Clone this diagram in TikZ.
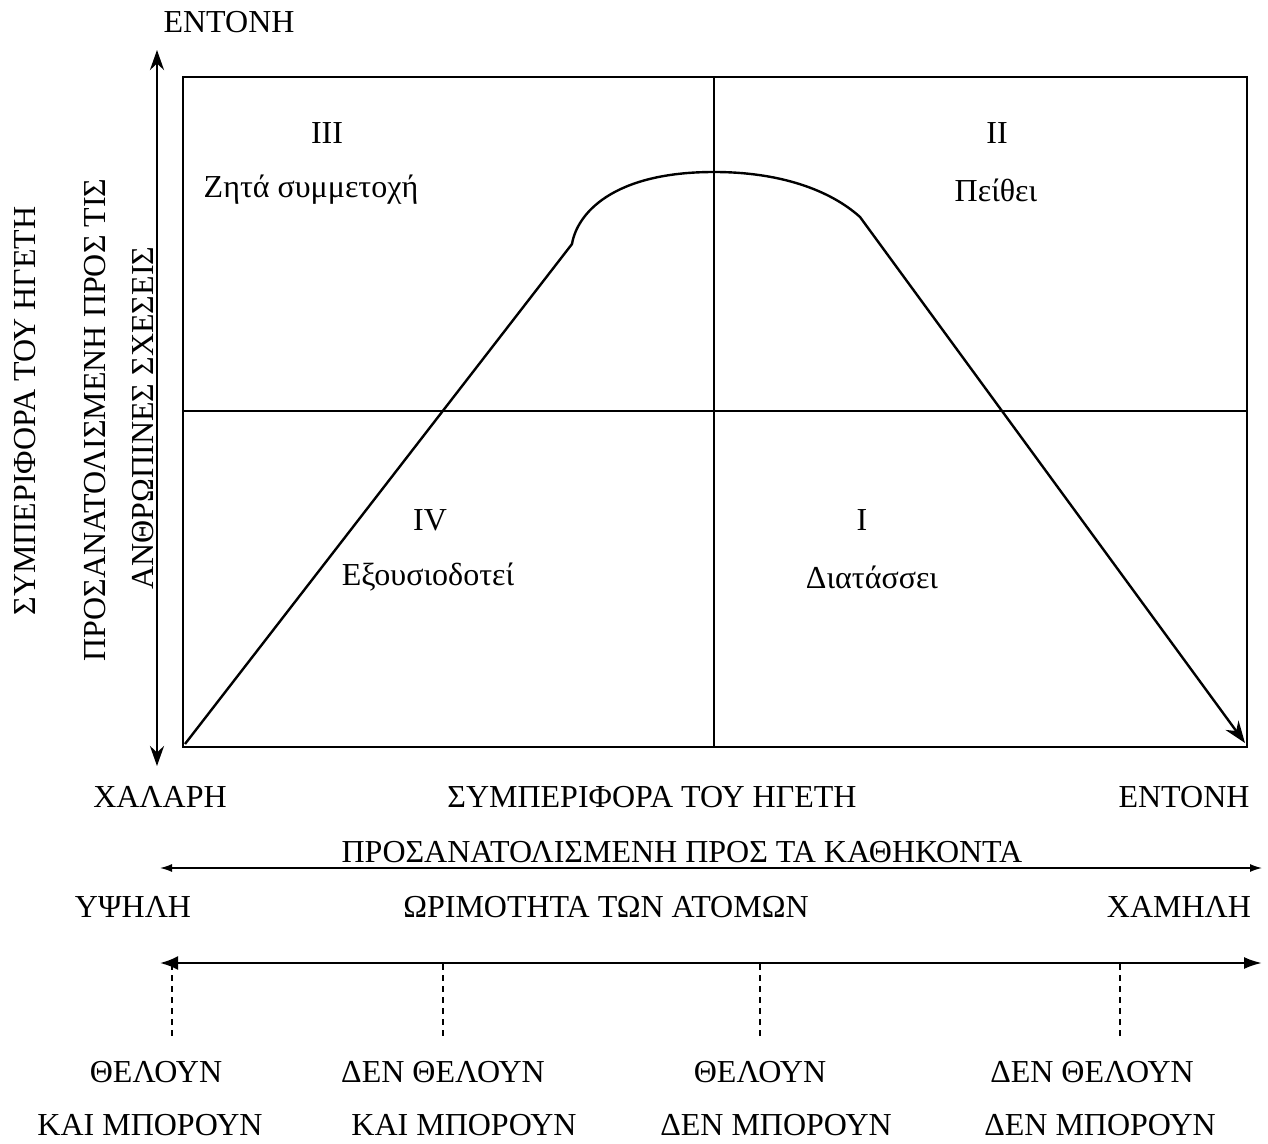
\documentclass[tikz,border=0pt]{standalone}
\usepackage{fontspec}
\setmainfont{Liberation Serif}
\usetikzlibrary{arrows.meta}
\tikzset{every path/.style={semithick}}
\tikzset{
  lbl/.style={inner sep=0pt,font=\fontsize{16}{19}\selectfont},
  vlbl/.style={lbl,rotate=90},
  frame/.style={line width=1.3pt},
  midline/.style={line width=1pt},
  axisarrow/.style={line width=1.4pt,{Stealth[length=10pt,width=7pt]}-{Stealth[length=10pt,width=7pt]}},
  thinarrow/.style={line width=0.7pt,{Latex[length=6pt,width=4pt]}-{Latex[length=6pt,width=4pt]}},
  levelline/.style={dash pattern=on 3pt off 2.5pt,line width=0.8pt}
}
\begin{document}
\begin{tikzpicture}[x=0.5pt,y=-0.5pt]
    \useasboundingbox (0,0) rectangle (1268,1144);

    % frame and quadrants
    \coordinate (tl) at (183,77);
    \coordinate (br) at (1247,747);
    \draw[frame] (tl) rectangle (br);
    \coordinate (mtop) at (714,77);
    \coordinate (mbot) at (714,747);
    \coordinate (mleft) at (183,411);
    \coordinate (mright) at (1247,411);
    \draw[midline] (mtop) -- (mbot);
    \draw[midline] (mleft) -- (mright);

    % vertical axis
    \coordinate (vtop) at (157,50);
    \coordinate (vbot) at (157,766);
    \draw[axisarrow] (vtop) -- (vbot);

    % curve
    \coordinate (cstart) at (185,744);
    \coordinate (cjoin) at (572,244);
    \coordinate (ctop) at (714,172);
    \coordinate (cknee) at (860,217);
    \coordinate (cend) at (1245,743);
    \draw[line width=1.2pt,-{Stealth[length=11pt,width=8pt]}] (cstart) -- (cjoin)
      .. controls (577,214) and (612,172) .. (ctop)
      .. controls (780,172) and (830,190) .. (cknee) -- (cend);

    \node[lbl] (q3num) at (327,133) {III};
    \node[lbl] (q3txt) at (311,190) {Ζητά συμμετοχή};
    \node[lbl] (q2num) at (997,133) {II};
    \node[lbl] (q2txt) at (996,190) {Πείθει};
    \node[lbl] (q4num) at (430,520) {IV};
    \node[lbl] (q4txt) at (428,577) {Εξουσιοδοτεί};
    \node[lbl] (q1num) at (862,520) {I};
    \node[lbl] (q1txt) at (872,577) {Διατάσσει};

    % axis labels
    \node[lbl] (vhigh) at (229,22) {ΕΝΤΟΝΗ};
    \node[vlbl] (vl1) at (25,411) {ΣΥΜΠΕΡΙΦΟΡΑ ΤΟΥ ΗΓΕΤΗ};
    \node[vlbl] (vl2) at (95,420) {ΠΡΟΣΑΝΑΤΟΛΙΣΜΕΝΗ ΠΡΟΣ ΤΙΣ};
    \node[vlbl] (vl3) at (143,418) {ΑΝΘΡΩΠΙΝΕΣ ΣΧΕΣΕΙΣ};

    \node[lbl] (hlow) at (160,797) {ΧΑΛΑΡΗ};
    \node[lbl] (hl1) at (652,797) {ΣΥΜΠΕΡΙΦΟΡΑ ΤΟΥ ΗΓΕΤΗ};
    \node[lbl] (hhigh) at (1184,797) {ΕΝΤΟΝΗ};
    \node[lbl] (hl2) at (682,852) {ΠΡΟΣΑΝΑΤΟΛΙΣΜΕΝΗ ΠΡΟΣ ΤΑ ΚΑΘΗΚΟΝΤΑ};
    \coordinate (ha) at (160,868);
    \coordinate (hb) at (1262,868);
    \draw[thinarrow] (ha) -- (hb);

    % maturity scale
    \node[lbl] (mhigh) at (133,907) {ΥΨΗΛΗ};
    \node[lbl] (mtitle) at (606,907) {ΩΡΙΜΟΤΗΤΑ ΤΩΝ ΑΤΟΜΩΝ};
    \node[lbl] (mlow) at (1179,907) {ΧΑΜΗΛΗ};
    \coordinate (sa) at (160,963);
    \coordinate (sb) at (1262,963);
    \draw[line width=1.2pt,{Latex[length=9pt,width=7pt]}-{Latex[length=9pt,width=6pt]}] (sa) -- (sb);

    \foreach \x/\n in {172/1,443/2,760/3,1120/4} {
      \coordinate (t\n) at (\x,964);
      \coordinate (d\n) at (\x,1040);
      \draw[levelline] (t\n) -- (d\n);
    }

    \node[lbl] (m1a) at (156,1072) {ΘΕΛΟΥΝ};
    \node[lbl] (m1b) at (150,1125) {ΚΑΙ ΜΠΟΡΟΥΝ};
    \node[lbl] (m2a) at (443,1072) {ΔΕΝ ΘΕΛΟΥΝ};
    \node[lbl] (m2b) at (464,1125) {ΚΑΙ ΜΠΟΡΟΥΝ};
    \node[lbl] (m3a) at (760,1072) {ΘΕΛΟΥΝ};
    \node[lbl] (m3b) at (776,1125) {ΔΕΝ ΜΠΟΡΟΥΝ};
    \node[lbl] (m4a) at (1092,1072) {ΔΕΝ ΘΕΛΟΥΝ};
    \node[lbl] (m4b) at (1100,1125) {ΔΕΝ ΜΠΟΡΟΥΝ};
  \end{tikzpicture}
\end{document}
